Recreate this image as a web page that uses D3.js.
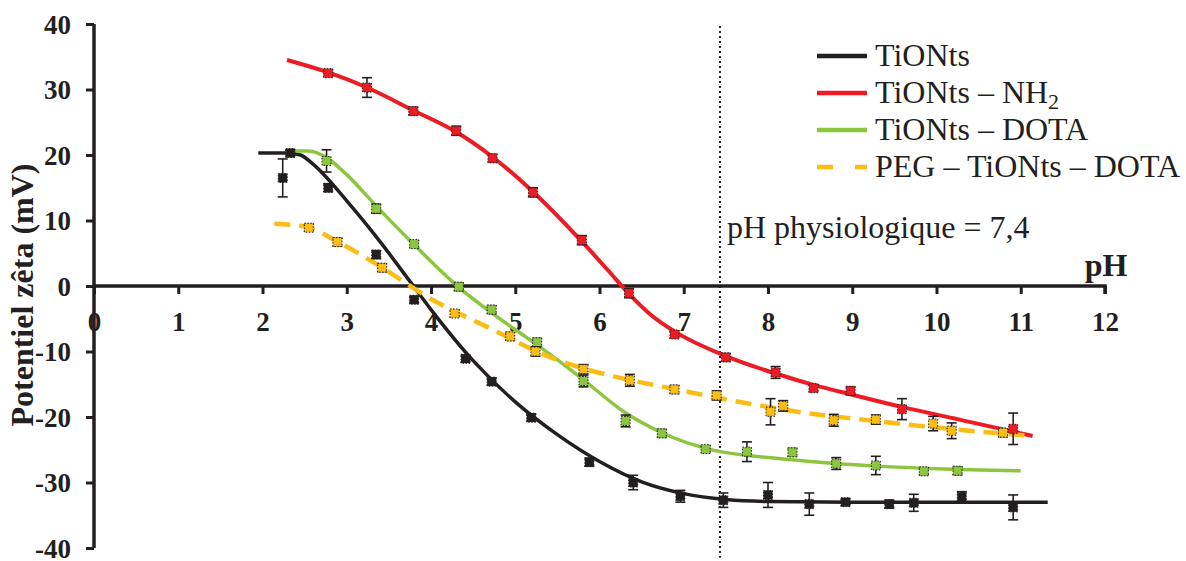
<!DOCTYPE html>
<html><head><meta charset="utf-8">
<script src="https://cdn.jsdelivr.net/npm/d3@7"></script>
<style>
html,body{margin:0;padding:0;background:#fff;}
svg text{font-family:"Liberation Serif","Times New Roman",serif;}
</style></head>
<body><svg id="c" width="1186" height="561"></svg>
<script>
// ---- data ----
const xTicks = [0,1,2,3,4,5,6,7,8,9,10,11,12];
const yTicks = [40,30,20,10,0,-10,-20,-30,-40];
const seriesNames = ["TiONts","TiONts – NH2","TiONts – DOTA","PEG – TiONts – DOTA"];
const seriesColors = ["#231f20","#ed1c24","#8cc63f","#fbbc14"];

// measured points [pH, zeta, err]
const ptsTiONts = [[2.24,16.5,2.9],[2.33,20.3,0.5],[2.78,15.0,0.6],[3.35,4.8,0.6],[3.80,-2.1,0.5],[4.41,-11.1,0.5],[4.72,-14.6,0.5],[5.19,-20.1,0.5],[5.88,-26.9,0.6],[6.40,-30.0,1.1],[6.96,-32.1,0.9],[7.47,-32.7,1.1],[8.00,-31.9,1.9],[8.49,-33.3,1.7],[8.92,-33.0,0.5],[9.44,-33.3,0.6],[9.73,-33.1,1.3],[10.30,-32.2,0.8],[10.91,-33.8,1.9]];
const ptsNH2 = [[2.78,32.5,0.5],[3.24,30.3,1.5],[3.79,26.7,0.6],[4.30,23.7,0.7],[4.73,19.5,0.6],[5.21,14.3,0.7],[5.79,7.0,0.7],[6.35,-1.1,0.7],[6.89,-7.4,0.5],[7.50,-10.9,0.6],[8.09,-13.2,0.9],[8.54,-15.6,0.5],[8.98,-16.0,0.6],[9.59,-18.8,1.6],[10.91,-21.8,2.4]];
const ptsDOTA = [[2.76,19.1,1.7],[3.35,11.8,0.7],[3.80,6.4,0.5],[4.33,-0.1,0.6],[4.72,-3.6,0.6],[5.26,-8.6,0.6],[5.81,-14.5,0.9],[6.31,-20.6,0.9],[6.74,-22.5,0.6],[7.26,-24.9,0.5],[7.75,-25.3,1.5],[8.29,-25.4,0.6],[8.81,-27.1,0.9],[9.28,-27.4,1.4],[9.85,-28.3,0.5],[10.25,-28.2,0.6]];
const ptsPEG = [[2.55,8.9,0.5],[2.89,6.7,0.6],[3.42,2.8,0.6],[4.28,-4.2,0.5],[4.94,-7.7,0.6],[5.24,-10.0,0.7],[5.81,-12.7,0.7],[6.36,-14.4,0.9],[6.89,-15.8,0.6],[7.39,-16.7,0.7],[8.03,-19.2,2.0],[8.18,-18.3,0.8],[8.78,-20.5,0.9],[9.28,-20.4,0.7],[9.96,-21.0,1.1],[10.18,-22.1,1.2],[10.79,-22.4,0.6]];

// fitted curves [pH, zeta]
const fitTiONts = [[1.95,20.3],[2.3,20.3],[2.45,20.0],[2.6,18.6],[3.0,13.0],[3.4,6.7],[3.75,0.7],[4.0,-3.6],[4.5,-11.4],[5.0,-17.7],[5.5,-22.7],[6.0,-26.8],[6.5,-29.9],[7.0,-31.7],[7.5,-32.6],[8.0,-32.9],[9.0,-33.0],[10.0,-33.0],[11.32,-33.0]];
const fitNH2 = [[2.29,34.5],[2.78,32.6],[3.24,30.3],[3.79,26.8],[4.3,23.5],[4.73,19.7],[5.21,14.4],[5.79,6.8],[6.1,2.4],[6.35,-1.2],[6.6,-4.3],[6.9,-7.0],[7.5,-10.7],[8.1,-13.4],[8.54,-15.1],[9.0,-16.6],[9.6,-18.5],[10.2,-20.2],[10.9,-22.2],[11.14,-22.9]];
const fitDOTA = [[2.29,20.6],[2.55,20.6],[2.76,19.6],[3.0,17.0],[3.35,12.2],[3.8,6.3],[4.33,-0.2],[4.72,-4.1],[5.26,-9.0],[5.77,-13.9],[6.29,-19.2],[6.74,-22.4],[7.36,-25.1],[8.0,-26.2],[8.5,-26.8],[9.3,-27.5],[10.0,-27.9],[11.0,-28.2]];
const fitPEG = [[2.14,9.5],[2.5,9.1],[2.9,6.7],[3.42,2.8],[3.99,-1.9],[4.66,-6.2],[5.5,-11.3],[6.17,-13.8],[6.76,-15.4],[7.75,-17.9],[8.35,-19.2],[9.33,-20.7],[10.48,-22.2],[11.14,-22.9]];

const physioPH = 7.43;
const physioLabel = "pH physiologique = 7,4";

// ---- drawing ----
const svg = d3.select("#c");
const x = d3.scaleLinear().domain([0,12]).range([94,1105]);
const y = d3.scaleLinear().domain([-40,40]).range([548,24]);

const fits = [fitTiONts, fitNH2, fitDOTA, fitPEG];
const pts = [ptsTiONts, ptsNH2, ptsDOTA, ptsPEG];
const widths = [3.5,4,3.5,4.5];

// physiological line
svg.append("line").attr("x1",x(physioPH)).attr("x2",x(physioPH))
  .attr("y1",y(39.7)).attr("y2",y(-41.5))
  .attr("stroke","#231f20").attr("stroke-width",2).attr("stroke-dasharray","2,3");
svg.append("text").attr("x",x(physioPH)+7).attr("y",238)
  .attr("font-size",32).attr("fill","#231f20").text(physioLabel);

// axes
const fmt = d => String(d);
const xAxis = d3.axisBottom(x).tickValues(xTicks).tickSize(8).tickFormat(fmt);
const gx = svg.append("g").attr("transform",`translate(0,${y(0)})`).call(xAxis);
gx.select(".domain").attr("d",`M${x(0)},0H${x(12)}V8`).attr("stroke","#231f20").attr("stroke-width",3.5).attr("fill","none");
gx.selectAll(".tick line").attr("stroke","#231f20").attr("stroke-width",3);
gx.selectAll(".tick text").attr("font-size",27).attr("font-weight","bold").attr("fill","#231f20")
  .attr("font-family","Liberation Serif").attr("dy","0.71em").attr("y",26);

const yAxis = d3.axisLeft(y).tickValues(yTicks).tickSize(8).tickFormat(fmt);
const gy = svg.append("g").attr("transform",`translate(${x(0)},0)`).call(yAxis);
gy.select(".domain").attr("d",`M0,${y(40)}V${y(-40)}`).attr("stroke","#231f20").attr("stroke-width",3.5).attr("fill","none");
gy.selectAll(".tick line").attr("stroke","#231f20").attr("stroke-width",3);
gy.selectAll(".tick text").attr("font-size",27).attr("font-weight","bold").attr("fill","#231f20")
  .attr("font-family","Liberation Serif").attr("x",-23).attr("dy","0.34em");

svg.append("text").attr("x",1106).attr("y",276).attr("text-anchor","middle")
  .attr("font-size",32).attr("font-weight","bold").attr("fill","#231f20").text("pH");
svg.append("text").attr("transform","translate(33,295) rotate(-90)").attr("text-anchor","middle")
  .attr("font-size",32).attr("font-weight","bold").attr("fill","#231f20").text("Potentiel zêta (mV)");

// curves
const line = d3.line().x(d=>x(d[0])).y(d=>y(d[1])).curve(d3.curveMonotoneX);
fits.forEach((f,i)=>{
  svg.append("path").datum(f).attr("d",line).attr("fill","none")
    .attr("stroke",seriesColors[i]).attr("stroke-width",widths[i])
    .attr("stroke-dasharray", i===3 ? "16,9" : null);
});

// error bars + markers
pts.forEach((p,i)=>{
  const g = svg.append("g");
  p.forEach(d=>{
    const cx = x(d[0]), y1 = y(d[1]+d[2]), y2 = y(d[1]-d[2]);
    g.append("line").attr("x1",cx).attr("x2",cx).attr("y1",y1).attr("y2",y2).attr("stroke","#231f20").attr("stroke-width",1.6);
    g.append("line").attr("x1",cx-5).attr("x2",cx+5).attr("y1",y1).attr("y2",y1).attr("stroke","#231f20").attr("stroke-width",1.6);
    g.append("line").attr("x1",cx-5).attr("x2",cx+5).attr("y1",y2).attr("y2",y2).attr("stroke","#231f20").attr("stroke-width",1.6);
  });
  g.selectAll("rect").data(p).join("rect")
    .attr("x",d=>x(d[0])-4.5).attr("y",d=>y(d[1])-4.5).attr("width",9).attr("height",9)
    .attr("fill",seriesColors[i]).attr("stroke","#231f20").attr("stroke-width",1).attr("stroke-dasharray","1.5,1.5");
});

// legend
const legY = [56,93,130,167];
seriesNames.forEach((n,i)=>{
  const ly = legY[i];
  svg.append("line").attr("x1",817).attr("x2",867).attr("y1",ly).attr("y2",ly)
    .attr("stroke",seriesColors[i]).attr("stroke-width",4.5)
    .attr("stroke-dasharray", i===3 ? "16,22" : null);
  const t = svg.append("text").attr("x",875).attr("y",ly+10).attr("font-size",32).attr("fill","#231f20");
  if (i===1) {
    t.append("tspan").text("TiONts – NH");
    t.append("tspan").attr("font-size",22).attr("dy",6).text("2");
  } else t.text(n);
});
</script></body></html>
